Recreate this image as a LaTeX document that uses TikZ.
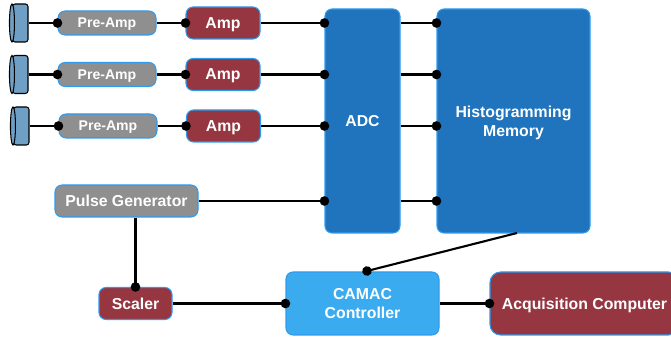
\documentclass[tikz,border=0pt]{standalone}
\usepackage{fontspec}
\setmainfont{Liberation Sans}
\usepackage{tikz}
\usetikzlibrary{arrows.meta,shapes.geometric}

\definecolor{edgeblue}{HTML}{2E9BEF}
\definecolor{ampred}{HTML}{953640}
\definecolor{preamp}{HTML}{8F8F8F}
\definecolor{darkblue}{HTML}{1F74BD}
\definecolor{lightblue}{HTML}{3BABF0}
\definecolor{detblue}{HTML}{6F9FC5}

\tikzset{
	box/.style = {draw = edgeblue, line width = .6pt, rounded corners = 4pt, inner sep = 0pt,
		text = white, align = center, text depth = 0pt, font = \bfseries\fontsize{9}{10.8}\selectfont},
	preampbox/.style = {box, fill = preamp, minimum width = 1.96cm, minimum height = .48cm,
		font = \bfseries\fontsize{8}{10}\selectfont},
	ampbox/.style = {box, fill = ampred, minimum width = 1.48cm, minimum height = .64cm},
	bigbox/.style = {box, fill = darkblue, minimum width = 3.06cm, minimum height = 4.48cm},
	detector/.style = {draw = black, line width = .6pt, fill = detblue, rounded corners = 1.5pt,
		inner sep = 0pt, minimum width = .31cm, minimum height = .76cm},
	detcap/.style = {draw = black, line width = .6pt, fill = detblue, ellipse,
		inner sep = 0pt, minimum width = .10cm, minimum height = .76cm},
	wire/.style = {line width = 1.2pt},
	dotwire/.style = {wire, -{Circle[length = 5.4pt, width = 5.4pt]}, shorten > = -2.7pt},
}

\begin{document}
\begin{tikzpicture}

	\useasboundingbox (0,0) rectangle (13.42,6.76);

	\node[detector] (det1) at (.405,6.30) {};
	\node[detector] (det2) at (.405,5.27) {};
	\node[detector] (det3) at (.425,4.24) {};

	\node[detcap] (cap1) at (det1.west) {};
	\node[detcap] (cap2) at (det2.west) {};
	\node[detcap] (cap3) at (det3.west) {};

	\node[preampbox] (pre1) at (2.14,6.30) {Pre-Amp};
	\node[preampbox] (pre2) at (2.14,5.27) {Pre-Amp};
	\node[preampbox] (pre3) at (2.16,4.24) {Pre-Amp};

	\node[ampbox] (amp1) at (4.46,6.30) {Amp};
	\node[ampbox] (amp2) at (4.46,5.27) {Amp};
	\node[ampbox] (amp3) at (4.47,4.24) {Amp};

	\node[bigbox, minimum width = 1.50cm] (adc) at (7.25,4.34) {ADC};
	\node[bigbox] (mem) at (10.27,4.34) {Histogramming\\Memory};

	\node[box, fill = preamp, minimum width = 2.86cm, minimum height = .64cm] (pulse) at (2.53,2.74) {Pulse Generator};
	\node[ampbox, minimum width = 1.46cm] (scaler) at (2.71,.69) {Scaler};
	\node[box, fill = lightblue, minimum width = 3.06cm, minimum height = 1.26cm] (camac) at (7.25,.69) {CAMAC\\Controller};
	\node[box, fill = ampred, minimum width = 3.78cm, minimum height = 1.26cm, rounded corners = 6pt] (acq) at (11.69,.69) {Acquisition Computer};

	\coordinate (memout) at (10.34,2.10);
	\coordinate (camacin) at (7.34,1.34);

	\draw[dotwire] (det1.east) -- (pre1.west);
	\draw[dotwire] (det2.east) -- (pre2.west);
	\draw[dotwire] (det3.east) -- (pre3.west);

	\draw[dotwire] (pre1.east) -- (amp1.west);
	\draw[dotwire] (pre2.east) -- (amp2.west);
	\draw[dotwire] (pre3.east) -- (amp3.west);

	\draw[dotwire] (amp1.east) -- (adc.west |- amp1.east);
	\draw[dotwire] (amp2.east) -- (adc.west |- amp2.east);
	\draw[dotwire] (amp3.east) -- (adc.west |- amp3.east);
	\draw[dotwire] (pulse.east) -- (adc.west |- pulse.east);

	\draw[dotwire] (adc.east |- amp1.east) -- (mem.west |- amp1.east);
	\draw[dotwire] (adc.east |- amp2.east) -- (mem.west |- amp2.east);
	\draw[dotwire] (adc.east |- amp3.east) -- (mem.west |- amp3.east);
	\draw[dotwire] (adc.east |- pulse.east) -- (mem.west |- pulse.east);

	\draw[dotwire] (pulse.south -| scaler.north) -- (scaler.north);
	\draw[dotwire] (scaler.east) -- (camac.west);
	\draw[dotwire] (memout) -- (camacin);
	\draw[dotwire] (camac.east) -- (acq.west);

\end{tikzpicture}
\end{document}
